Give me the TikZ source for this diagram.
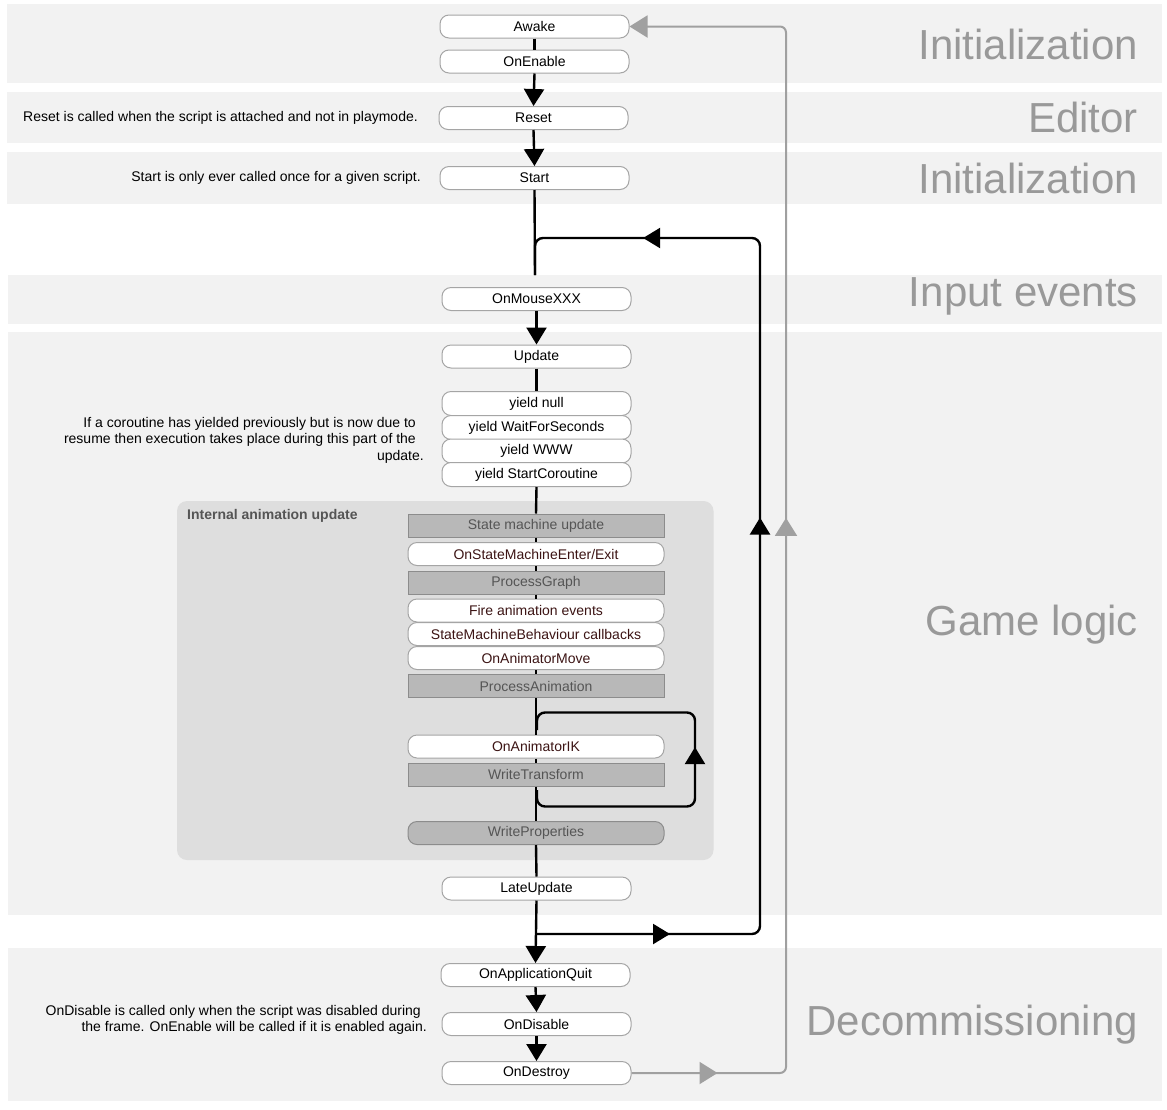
\documentclass[tikz,border=0pt]{standalone}
\usepackage{fontspec}
\setmainfont{Liberation Sans}
\usetikzlibrary{arrows.meta,decorations.markings}
\definecolor{bandbg}{RGB}{242,242,242}
\definecolor{animbg}{RGB}{222,222,222}
\definecolor{boxline}{RGB}{165,165,165}
\definecolor{grayfill}{RGB}{184,184,184}
\definecolor{graydraw}{RGB}{140,140,140}
\definecolor{graytext}{RGB}{85,85,85}
\definecolor{labelgray}{RGB}{153,153,153}
\definecolor{loopgray}{RGB}{160,160,160}
\definecolor{animtext}{RGB}{60,20,20}
\tikzset{
  band/.style={fill=bandbg, draw=none},
  mainbox/.style={draw=boxline, line width=1pt, fill=white, rounded corners=9pt,
    minimum width=189pt, minimum height=23pt, inner sep=0pt, font=\fontsize{14}{16}\selectfont},
  yieldbox/.style={mainbox, minimum height=24pt},
  animwhite/.style={mainbox, minimum width=256pt, text=animtext},
  animgray/.style={draw=graydraw, line width=1pt, fill=grayfill, minimum width=256pt,
    minimum height=23pt, inner sep=0pt, text=graytext, font=\fontsize{14}{16}\selectfont},
  animgrayround/.style={animgray, rounded corners=9pt},
  phase/.style={anchor=base east, text=labelgray, font=\fontsize{42}{48}\selectfont, inner sep=0pt},
  note/.style={anchor=east, align=right, font=\fontsize{14}{16.5}\selectfont, inner sep=0pt},
  flow/.style={line width=2.4pt, black},
  grayflow/.style={line width=2pt, loopgray},
  tipA/.style={-{Triangle[length=17pt,width=20pt]}},
  tipG/.style={-{Triangle[length=18pt,width=22pt]}},
}
\begin{document}
\begin{tikzpicture}[x=1pt,y=-1pt]
\useasboundingbox[fill=white] (0,0) rectangle (1167,1109);
% bands
\fill[band] (7,4) rectangle (1162,83);
\fill[band] (7,92) rectangle (1162,143);
\fill[band] (7,152) rectangle (1162,204);
\fill[band] (8,275) rectangle (1162,324);
\fill[band] (8,332) rectangle (1162,915);
\fill[band] (8,948) rectangle (1162,1101);
% phase labels
\node[phase] (ph1) at (1138,59) {Initialization};
\node[phase] (ph2) at (1138,132) {Editor};
\node[phase] (ph3) at (1138,193) {Initialization};
\node[phase] (ph4) at (1138,306) {Input events};
\node[phase] (ph5) at (1138,635) {Game logic};
\node[phase] (ph6) at (1138,1035) {Decommissioning};
% animation background
\fill[animbg, rounded corners=10pt] (177,501) rectangle (713.5,860);
\node[anchor=west, inner sep=0pt, text=graytext, font=\fontsize{14}{16}\selectfont\bfseries] (animtitle) at (187,516) {Internal animation update};
% notes
\node[note] (n1) at (418,118) {Reset is called when the script is attached and not in playmode.};
\node[note] (n2) at (421,178) {Start is only ever called once for a given script.};
\node[note] (n3) at (424,440) {If a coroutine has yielded previously but is now due to\kern8pt\\resume then execution takes place during this part of the\kern8pt\\update.};
\node[note] (n4) at (427,1020) {OnDisable is called only when the script was disabled during\kern6pt\\the frame. OnEnable will be called if it is enabled again.};
% coordinates for free ends
\coordinate (startend) at (535,275);
\coordinate (loopbr) at (537,934);
\coordinate (looptop) at (535,238);
\coordinate (ikstart) at (537,790);
\coordinate (ikend) at (537,730);
% black outer loop
\draw[flow, rounded corners=8pt,
  postaction={decorate, decoration={markings,
    mark=at position 133pt with {\arrow{Triangle[length=17pt,width=20pt]}},
    mark=at position 636pt with {\arrow{Triangle[length=17pt,width=20pt]}},
    mark=at position 1029pt with {\arrow{Triangle[length=17pt,width=20pt]}}}}]
  (loopbr) -- (760,934) -- (760,238) -- (looptop) -- (startend);
% small IK loop
\draw[flow, rounded corners=8pt,
  postaction={decorate, decoration={markings,
    mark=at position 227pt with {\arrow{Triangle[length=17pt,width=20pt]}}}}]
  (ikstart) -- (537,806.5) -- (695,806.5) -- (695,712.5) -- (537,712.5) -- (ikend);
% main nodes
\node[mainbox] (awake) at (534.5,26.5) {Awake};
\node[mainbox] (onenable) at (534.5,61.5) {OnEnable};
\node[mainbox] (reset) at (533.5,118) {Reset};
\node[mainbox] (start) at (534.5,178) {Start};
\node[mainbox] (mouse) at (536.5,299) {OnMouseXXX};
\node[mainbox] (update) at (536.5,356.5) {Update};
\node[yieldbox] (y1) at (536.5,403.5) {yield null};
\node[yieldbox] (y2) at (536.5,427.5) {yield WaitForSeconds};
\node[yieldbox] (y3) at (536.5,451) {yield WWW};
\node[yieldbox] (y4) at (536.5,474.5) {yield StartCoroutine};
\node[animgray] (a1) at (536,525.5) {State machine update};
\node[animwhite] (a2) at (536,554) {OnStateMachineEnter/Exit};
\node[animgray] (a3) at (536,582.5) {ProcessGraph};
\node[animwhite] (a4) at (536,610.5) {Fire animation events};
\node[animwhite] (a5) at (536,634) {StateMachineBehaviour callbacks};
\node[animwhite] (a6) at (536,658) {OnAnimatorMove};
\node[animgray] (a7) at (536,686) {ProcessAnimation};
\node[animwhite] (a8) at (536,746.5) {OnAnimatorIK};
\node[animgray] (a9) at (536,774.5) {WriteTransform};
\node[animgrayround] (a10) at (536,833) {WriteProperties};
\node[mainbox] (late) at (536.5,888.5) {LateUpdate};
\node[mainbox] (quit) at (535.5,975) {OnApplicationQuit};
\node[mainbox] (disable) at (536.5,1024) {OnDisable};
\node[mainbox] (destroy) at (536.5,1073) {OnDestroy};
% main connectors
\draw[flow] (awake.south) -- (onenable.north);
\draw[flow,tipA] (onenable.south) -- (reset.north);
\draw[flow,tipA] (reset.south) -- (start.north);
\draw[flow] (start.south) -- (startend);
\draw[flow,tipA] (mouse.south) -- (update.north);
\draw[flow] (update.south) -- (y1.north);
\draw[flow] (y4.south) -- (a1.north);
\draw[flow] (a1.south) -- (a2.north);
\draw[flow] (a2.south) -- (a3.north);
\draw[flow] (a3.south) -- (a4.north);
\draw[flow] (a6.south) -- (a7.north);
\draw[flow] (a7.south) -- (a8.north);
\draw[flow] (a8.south) -- (a9.north);
\draw[flow] (a9.south) -- (a10.north);
\draw[flow] (a10.south) -- (late.north);
\draw[flow,tipA] (late.south) -- (quit.north);
\draw[flow,tipA] (quit.south) -- (disable.north);
\draw[flow,tipA] (disable.south) -- (destroy.north);
% gray loop
\draw[grayflow, rounded corners=6pt, tipG,
  postaction={decorate, decoration={markings,
    mark=at position 86pt with {\arrow{Triangle[length=18pt,width=22pt]}},
    mark=at position 707pt with {\arrow{Triangle[length=18pt,width=22pt]}}}}]
  (destroy.east) -- (786,1073) -- (786,26.5) -- (awake.east);
\end{tikzpicture}
\end{document}
